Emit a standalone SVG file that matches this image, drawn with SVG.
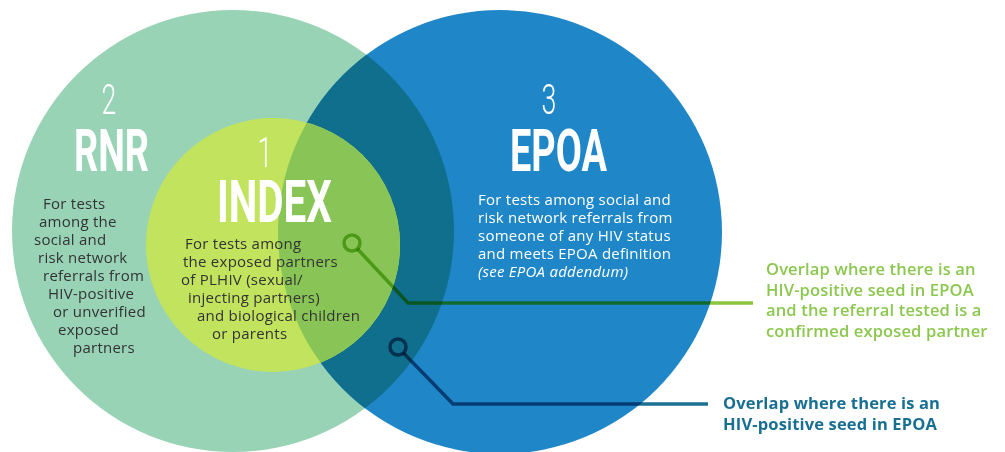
<svg xmlns="http://www.w3.org/2000/svg" width="1005" height="452" viewBox="0 0 1005 452">
<defs>
<style>
.big{font-family:Roboto,"Liberation Sans",sans-serif;font-weight:700;font-size:59px;fill:#fff}
.num{font-family:Roboto,"Liberation Sans",sans-serif;font-weight:300;font-size:43px;fill:#fff}
.body{font-family:"Open Sans","Noto Sans",sans-serif;font-size:15px;letter-spacing:0.25px;fill:#333}
.wbody{font-family:"Open Sans","Noto Sans",sans-serif;font-size:15px;letter-spacing:0.25px;fill:#fff}
.gl{font-family:"Open Sans","Noto Sans",sans-serif;font-size:16.5px;letter-spacing:0.15px;font-weight:600;fill:#8CC850}
.bl{font-family:"Open Sans","Noto Sans",sans-serif;font-size:16.5px;letter-spacing:0.15px;font-weight:700;fill:#186F92}
.conn{fill:none;stroke-width:3.5;mix-blend-mode:multiply}
</style>
<clipPath id="clipBlue"><circle cx="500" cy="232" r="222"/></clipPath>
</defs>
<rect width="1005" height="452" fill="#fff"/>
<g id="node-rnr">
<circle cx="233" cy="231" r="221" fill="#98D3B6"/>
</g>
<g id="node-epoa">
<circle cx="500" cy="232" r="222" fill="#1F87C8"/>
<circle cx="233" cy="231" r="221" fill="#106F8C" clip-path="url(#clipBlue)"/>
</g>
<g id="node-index">
<circle cx="273" cy="245" r="127" fill="#C1E35E"/>
<circle cx="273" cy="245" r="127" fill="#89C556" clip-path="url(#clipBlue)"/>
</g>
<g id="connectors">
<circle class="conn" cx="352" cy="243" r="8" stroke="#8CC63F"/>
<polyline class="conn" points="357.5,249 408,303 753,303" stroke="#8CC63F"/>
<circle class="conn" cx="398" cy="347" r="8" stroke="#1B7192"/>
<polyline class="conn" points="403.5,353 453,404 708,404" stroke="#1B7192"/>
</g>
<g id="label-rnr">
<text class="num" transform="translate(109,114) scale(0.62,1)" text-anchor="middle">2</text>
<text class="big" x="74" y="171" textLength="75" lengthAdjust="spacingAndGlyphs">RNR</text>
<text class="body"><tspan x="43" y="209">For tests</tspan><tspan x="39" y="227">among the</tspan><tspan x="34" y="245">social and</tspan><tspan x="38" y="263">risk network</tspan><tspan x="43" y="281">referrals from</tspan><tspan x="48" y="299">HIV-positive</tspan><tspan x="53" y="317">or unverified</tspan><tspan x="58" y="335">exposed</tspan><tspan x="73" y="353">partners</tspan></text>
</g>
<g id="label-index">
<text class="num" transform="translate(265,167) scale(0.62,1)" text-anchor="middle">1</text>
<text class="big" x="217" y="222" textLength="115" lengthAdjust="spacingAndGlyphs">INDEX</text>
<text class="body"><tspan x="185" y="249">For tests among</tspan><tspan x="183" y="267">the exposed partners</tspan><tspan x="181" y="285">of PLHIV (sexual/</tspan><tspan x="188" y="303">injecting partners)</tspan><tspan x="197" y="321">and biological children</tspan><tspan x="212" y="339">or parents</tspan></text>
</g>
<g id="label-epoa">
<text class="num" transform="translate(549,114) scale(0.62,1)" text-anchor="middle">3</text>
<text class="big" x="510" y="171" textLength="97" lengthAdjust="spacingAndGlyphs">EPOA</text>
<text class="wbody"><tspan x="478" y="205">For tests among social and</tspan><tspan x="478" y="223">risk network referrals from</tspan><tspan x="478" y="241">someone of any HIV status</tspan><tspan x="478" y="259">and meets EPOA definition</tspan><tspan x="478" y="277" font-style="italic">(see EPOA addendum)</tspan></text>
</g>
<g id="label-overlap-green">
<text class="gl"><tspan x="766" y="275">Overlap where there is an</tspan><tspan x="766" y="296">HIV-positive seed in EPOA</tspan><tspan x="766" y="316">and the referral tested is a</tspan><tspan x="766" y="337">confirmed exposed partner</tspan></text>
</g>
<g id="label-overlap-blue">
<text class="bl"><tspan x="723" y="409">Overlap where there is an</tspan><tspan x="723" y="430">HIV-positive seed in EPOA</tspan></text>
</g>
</svg>
